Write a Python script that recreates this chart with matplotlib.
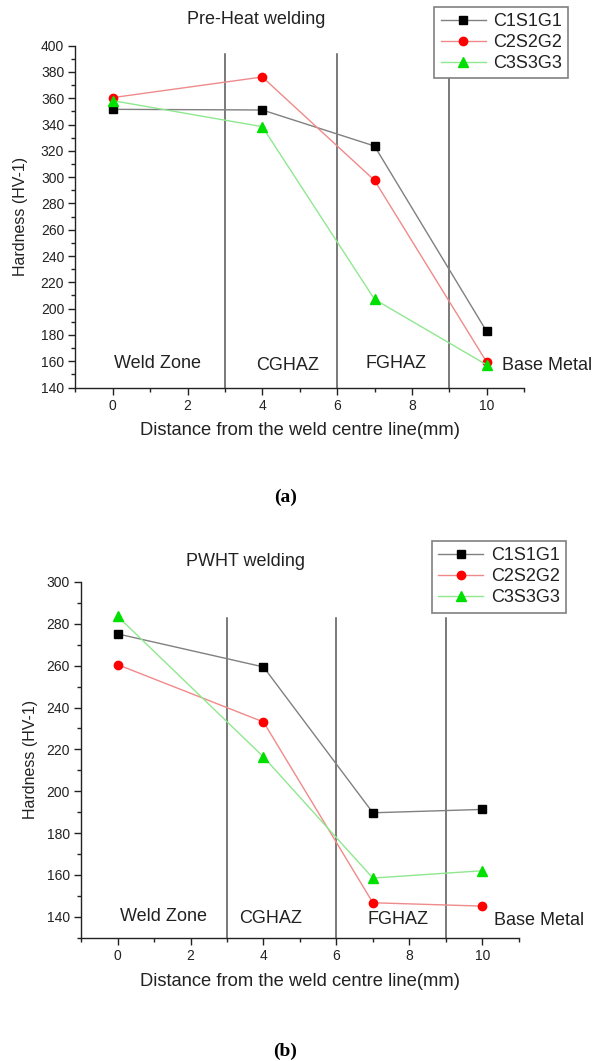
import matplotlib
matplotlib.use("Agg")
import matplotlib.pyplot as plt
from matplotlib.ticker import MultipleLocator

plt.rcParams['font.family'] = ['Liberation Sans', 'DejaVu Sans']

# ---- data ----
x_pos = [0, 4, 7, 10]
series_names = ["C1S1G1", "C2S2G2", "C3S3G3"]

pre_c1 = [351.6, 351.1, 323.7, 182.6]
pre_c2 = [360.5, 376.2, 297.6, 159.3]
pre_c3 = [358.2, 338.4, 207.1, 157.2]

pwht_c1 = [275.2, 259.4, 189.7, 191.3]
pwht_c2 = [260.5, 233.1, 146.7, 145.1]
pwht_c3 = [283.6, 216.4, 158.5, 162.0]

zone_names = ["Weld Zone", "CGHAZ", "FGHAZ", "Base Metal"]
zone_bounds = [3, 6, 9]

titles = ["Pre-Heat welding", "PWHT welding"]
captions = ["(a)", "(b)"]
xlabel = "Distance from the weld centre line(mm)"
ylabel = "Hardness (HV-1)"

# ---- style ----
marker_colors = ["black", "#ff0000", "#00e000"]
line_colors = ["#808080", "#f08a8a", "#8fe88f"]
markers = ["s", "o", "^"]
marker_sizes = [5.4, 6.0, 6.5]

fig = plt.figure(figsize=(5.95, 10.61), dpi=100)

W, H = 595.0, 1061.0

def make_axes(left, right, top, bottom):
    return fig.add_axes([left / W, 1 - bottom / H, (right - left) / W, (bottom - top) / H])

ax1 = make_axes(75.3, 524.1, 45.7, 387.5)
ax2 = make_axes(81.2, 518.7, 582.0, 937.7)

configs = [
    dict(ax=ax1, data=[pre_c1, pre_c2, pre_c3], ylim=(140, 400), vtop=394,
         zone_xy=[(1.2, 158.0), (4.69, 156.4), (7.57, 158.0), (10.42, 156.7)],
         title_xy=(256.5, 20.0), legend_xy=(434.3, 6.7), cap_y=497.0, ylpad=9),
    dict(ax=ax2, data=[pwht_c1, pwht_c2, pwht_c3], ylim=(130, 300), vtop=282.6,
         zone_xy=[(1.27, 140.1), (4.19, 139.4), (7.69, 138.6), (10.32, 138.1)],
         title_xy=(245.4, 562.0), legend_xy=(432.0, 541.0), cap_y=1051.0, ylpad=6),
]

for i, cfg in enumerate(configs):
    ax = cfg["ax"]
    ax.set_xlim(-1, 11)
    ax.set_ylim(*cfg["ylim"])
    for s in ["top", "right"]:
        ax.spines[s].set_visible(False)
    for s in ["left", "bottom"]:
        ax.spines[s].set_linewidth(1.0)
        ax.spines[s].set_color("#222222")
    ax.xaxis.set_major_locator(MultipleLocator(2))
    ax.xaxis.set_minor_locator(MultipleLocator(1))
    ax.yaxis.set_major_locator(MultipleLocator(20))
    ax.yaxis.set_minor_locator(MultipleLocator(10))
    ax.tick_params(which="major", direction="out", length=5, width=1.0,
                   labelsize=10, colors="#222222", pad=3)
    ax.tick_params(which="minor", direction="out", length=3, width=1.0, colors="#222222")
    ax.set_xlabel(xlabel, fontsize=13.2, color="#222222", labelpad=7)
    ax.set_ylabel(ylabel, fontsize=11.5, color="#222222", labelpad=cfg["ylpad"])

    for b in zone_bounds:
        ax.plot([b, b], [cfg["ylim"][0], cfg["vtop"]], color="#555555", lw=1.1,
                clip_on=False, zorder=1)

    handles = []
    for k, yv in enumerate(cfg["data"]):
        h, = ax.plot(x_pos, yv, color=line_colors[k], lw=1.0, marker=markers[k],
                     markersize=marker_sizes[k],
                     markerfacecolor=marker_colors[k], markeredgecolor=marker_colors[k],
                     label=series_names[k], zorder=3, clip_on=False)
        handles.append(h)

    for name, (zx, zy) in zip(zone_names, cfg["zone_xy"]):
        ha = "left" if name == "Base Metal" else "center"
        ax.text(zx, zy, name, fontsize=13, ha=ha, va="center", color="#222222",
                clip_on=False)

    tx, ty = cfg["title_xy"]
    fig.text(tx / W, 1 - ty / H, titles[i], fontsize=13, ha="center", va="center",
             color="#222222")

    lx, ly = cfg["legend_xy"]
    leg = fig.legend(handles=handles, loc="upper left",
                     bbox_to_anchor=(lx / W, 1 - ly / H), bbox_transform=fig.transFigure,
                     fontsize=13, frameon=True, fancybox=False, framealpha=1,
                     edgecolor="#808080", borderpad=0.35, labelspacing=0.22,
                     handlelength=2.5, handletextpad=0.4, borderaxespad=0)
    leg.get_frame().set_linewidth(1.2)
    for t in leg.get_texts():
        t.set_color("#222222")

    fig.text(285.5 / W, 1 - cfg["cap_y"] / H, captions[i], fontsize=14,
             fontweight="bold", family="Liberation Serif", ha="center", va="center")

fig.savefig("out.png", dpi=100)
